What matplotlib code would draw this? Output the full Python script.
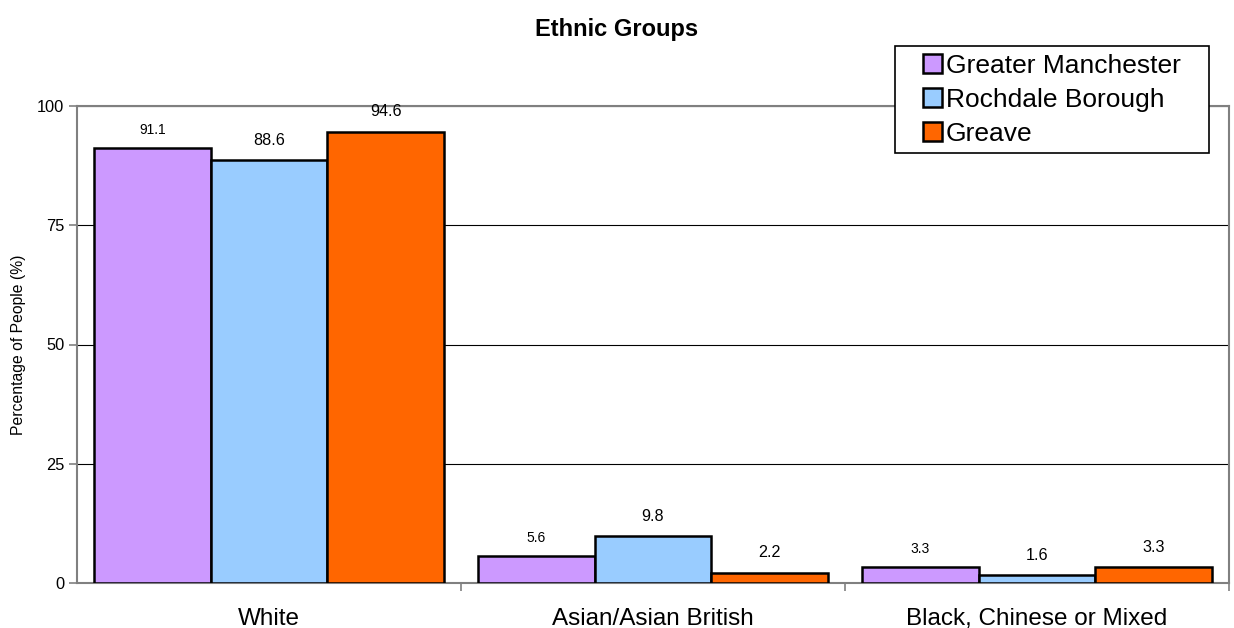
import matplotlib
matplotlib.use("Agg")
import matplotlib.pyplot as plt
from matplotlib.patches import Rectangle
import numpy as np

categories = ["White", "Asian/Asian British", "Black, Chinese or Mixed"]
series_names = ["Greater Manchester", "Rochdale Borough", "Greave"]
greater_manchester = [91.1, 5.6, 3.3]
rochdale = [88.6, 9.8, 1.6]
greave = [94.6, 2.2, 3.3]
colors = ["#CC99FF", "#99CCFF", "#FF6600"]
label_sizes = [10, 11.6, 11.6]
label_offsets = [13, 14.5, 14.5]
yticks = [0, 25, 50, 75, 100]

plt.rcParams['font.family'] = ['Liberation Sans', 'DejaVu Sans']

W, H = 1234, 628
fig = plt.figure(figsize=(W / 100, H / 100), dpi=100)
ax = fig.add_axes([77/W, 1-583/H, (1229-77)/W, (583-106)/H])

x = np.arange(len(categories))
w = 0.3036
for i, (vals, name, c) in enumerate(zip([greater_manchester, rochdale, greave], series_names, colors)):
    pos = x + (i - 1) * w
    ax.bar(pos, vals, width=w, color=c, edgecolor="black", linewidth=1.8, label=name, zorder=3)
    for p, v in zip(pos, vals):
        ax.annotate(f"{v:.1f}", (p, v), xytext=(0, label_offsets[i]), textcoords="offset points",
                    ha="center", va="center", fontsize=label_sizes[i])

ax.set_xlim(-0.5, 2.5)
ax.set_ylim(0, 100)
ax.set_yticks(yticks)
ax.set_yticklabels([str(t) for t in yticks], fontsize=11.8)
ax.yaxis.grid(True, color="black", linewidth=0.8, zorder=0)
ax.set_axisbelow(True)

ax.set_xticks([0.5, 1.5, 2.5])
ax.set_xticklabels([])
ax.set_xticks(x, minor=True)
ax.set_xticklabels(categories, minor=True, fontsize=17.5)
ax.tick_params(axis="x", which="minor", length=0, pad=18)
ax.tick_params(axis="x", which="major", length=6, color="#808080", width=1.2)
ax.tick_params(axis="y", length=6, color="#808080", width=1.2, pad=3)

for s in ax.spines.values():
    s.set_color("#808080")
    s.set_linewidth(1.5)

ax.set_ylabel("Percentage of People (%)", fontsize=11.3)
ax.yaxis.set_label_coords((26 - 77) / (1229 - 77), 0.5)
fig.text(0.5, 1 - 36/H, "Ethnic Groups", ha="center", va="baseline", fontsize=17, fontweight="bold")

# legend box
fig.patches.append(Rectangle((895/W, 1-153/H), (1209-895)/W, (153-46)/H, transform=fig.transFigure,
                             facecolor="white", edgecolor="black", linewidth=1.2, zorder=5))
leg = fig.legend(loc="upper left", bbox_to_anchor=(923/W, 1-54/H), bbox_transform=fig.transFigure,
                 fontsize=19, frameon=False,
                 handlelength=0.72, handleheight=0.72, handletextpad=0.15, borderpad=0, labelspacing=0.38,
                 borderaxespad=0)
leg.set_zorder(6)
for h in leg.legend_handles:
    h.set_linewidth(1.8)

fig.savefig("out.png", dpi=100)
